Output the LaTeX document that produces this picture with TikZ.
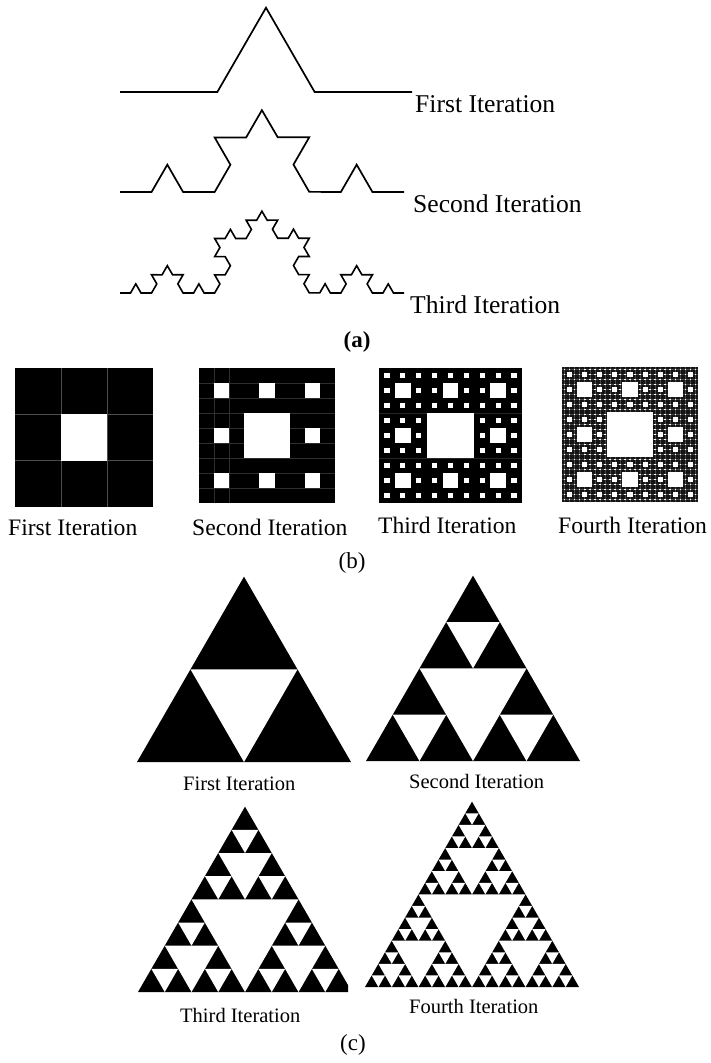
\documentclass[tikz,border=0pt]{standalone}
\usepackage{fontspec}
\setmainfont{Liberation Serif}
\usetikzlibrary{decorations.fractals}

% holes of the carpet: level, x, y (top left), width, height
\newcommand\carpethole[5]{%
  \ifnum#1>0\relax
    \fill[white] ({#2+#4/3},{#3-#5/3}) rectangle ({#2+2*#4/3},{#3-2*#5/3});
    \begingroup
    \pgfmathtruncatemacro\nlev{#1-1}%
    \pgfmathsetmacro\sw{#4/3}\pgfmathsetmacro\sh{#5/3}%
    \pgfmathsetmacro\xb{#2+#4/3}\pgfmathsetmacro\xc{#2+2*#4/3}%
    \pgfmathsetmacro\yb{#3-#5/3}\pgfmathsetmacro\yc{#3-2*#5/3}%
    \edef\next{%
      \noexpand\carpethole{\nlev}{#2}{#3}{\sw}{\sh}%
      \noexpand\carpethole{\nlev}{\xb}{#3}{\sw}{\sh}%
      \noexpand\carpethole{\nlev}{\xc}{#3}{\sw}{\sh}%
      \noexpand\carpethole{\nlev}{#2}{\yb}{\sw}{\sh}%
      \noexpand\carpethole{\nlev}{\xc}{\yb}{\sw}{\sh}%
      \noexpand\carpethole{\nlev}{#2}{\yc}{\sw}{\sh}%
      \noexpand\carpethole{\nlev}{\xb}{\yc}{\sw}{\sh}%
      \noexpand\carpethole{\nlev}{\xc}{\yc}{\sw}{\sh}}%
    \expandafter\endgroup\next
  \fi}

% holes of the gasket: level, x, y (base left), side
\newcommand\sierhole[4]{%
  \ifnum#1>0\relax
    \fill[white] ({#2+#4/2},{#3}) -- ({#2+#4/4},{#3+0.4330127*#4}) -- ({#2+0.75*#4},{#3+0.4330127*#4}) -- cycle;
    \begingroup
    \pgfmathtruncatemacro\nlev{#1-1}%
    \pgfmathsetmacro\hs{#4/2}%
    \pgfmathsetmacro\xb{#2+#4/2}\pgfmathsetmacro\xc{#2+#4/4}%
    \pgfmathsetmacro\yc{#3+0.4330127*#4}%
    \edef\next{%
      \noexpand\sierhole{\nlev}{#2}{#3}{\hs}%
      \noexpand\sierhole{\nlev}{\xb}{#3}{\hs}%
      \noexpand\sierhole{\nlev}{\xc}{\yc}{\hs}}%
    \expandafter\endgroup\next
  \fi}

\begin{document}
\begin{tikzpicture}[x=1pt,y=1pt,
  kochlabel/.style={font=\fontsize{25.6}{30}\selectfont,inner sep=0pt,anchor=base west},
  carpetlabel/.style={font=\fontsize{23.6}{28}\selectfont,inner sep=0pt,anchor=base west},
  trilabel/.style={font=\fontsize{20.5}{24}\selectfont,inner sep=0pt,anchor=base west},
  caption/.style={font=\fontsize{23}{27}\selectfont,inner sep=0pt},
  gridline/.style={draw=black!70,line width=0.6pt}]
\useasboundingbox[fill=white] (0,0) rectangle (711,-1063);
% Koch curves
\draw[line width=1.7pt,decoration=Koch snowflake] decorate{(120,-92) -- (412,-92)};
\draw[line width=1.7pt,decoration=Koch snowflake] decorate{decorate{(120,-192) -- (404,-192)}};
\draw[line width=1.6pt,decoration=Koch snowflake] decorate{decorate{decorate{(120,-293) -- (404,-293)}}};
\node[kochlabel] (k1) at (415,-112) {First Iteration};
\node[kochlabel] (k2) at (413,-212) {Second Iteration};
\node[kochlabel] (k3) at (410,-313) {Third Iteration};
\node[caption] (capa) at (357,-342) {\textbf{(a)}};
% Carpets
\fill[black] (15,-368) rectangle (153,-507);
\foreach \k in {1,2} {
  \draw[gridline] (15,{-368-\k*139/3}) -- (153,{-368-\k*139/3});
  \draw[gridline] ({15+\k*138/3},-368) -- ({15+\k*138/3},-507);
}
\carpethole{1}{15}{-368}{138}{139}
\fill[black] (199,-368) rectangle (335,-503);
\foreach \k in {1,...,8}
  \draw[gridline,draw=black!82,line width=0.5pt] (199,{-368-\k*15}) -- (335,{-368-\k*15});
\foreach \k in {1,2}
  \draw[gridline,draw=black!82,line width=0.5pt] ({199+\k*136/9},-368) -- ({199+\k*136/9},-503);
\carpethole{2}{199}{-368}{136}{135}
\fill[black] (379,-368) rectangle (522,-503);
\foreach \k in {1,2}
  \draw[gridline,draw=black!85,line width=0.5pt] (379,{-368-\k*45}) -- (522,{-368-\k*45});
\carpethole{3}{379}{-368}{143}{135}
\fill[black!92] (562,-367) rectangle (698,-502);
\foreach \k in {0,...,26} {
  \draw[gridline,draw=black!72,line width=0.4pt] (562,{-367-(\k+0.5)*5}) -- (698,{-367-(\k+0.5)*5});
  \draw[gridline,draw=black!72,line width=0.4pt] ({562+(\k+0.5)*136/27},-367) -- ({562+(\k+0.5)*136/27},-502);
}
\carpethole{4}{562}{-367}{136}{135}
\node[carpetlabel] (c1) at (8,-535) {First Iteration};
\node[carpetlabel] (c2) at (192,-535) {Second Iteration};
\node[carpetlabel] (c3) at (378,-533) {Third Iteration};
\node[carpetlabel] (c4) at (558,-533) {Fourth Iteration};
\node[caption] (capb) at (352,-563) {(b)};
% Gaskets
\fill[black] (137,-762) -- ++(214,0) -- ++(120:214) -- cycle;
\sierhole{1}{137}{-762}{214}
\fill[black] (366,-761) -- ++(214,0) -- ++(120:214) -- cycle;
\sierhole{2}{366}{-761}{214}
\begin{scope}
  \clip (100,-780) rectangle (348,-1000);
  \fill[black] (138,-992) -- ++(214,0) -- ++(120:214) -- cycle;
  \sierhole{3}{138}{-992}{214}
\end{scope}
\fill[black] (365,-987) -- ++(214,0) -- ++(120:214) -- cycle;
\sierhole{4}{365}{-987}{214}
\node[trilabel] (t1) at (183,-790) {First Iteration};
\node[trilabel] (t2) at (409,-788) {Second Iteration};
\node[trilabel] (t3) at (180,-1022) {Third Iteration};
\node[trilabel] (t4) at (409,-1013) {Fourth Iteration};
\node[caption] (capc) at (353,-1045) {(c)};
\end{tikzpicture}
\end{document}
